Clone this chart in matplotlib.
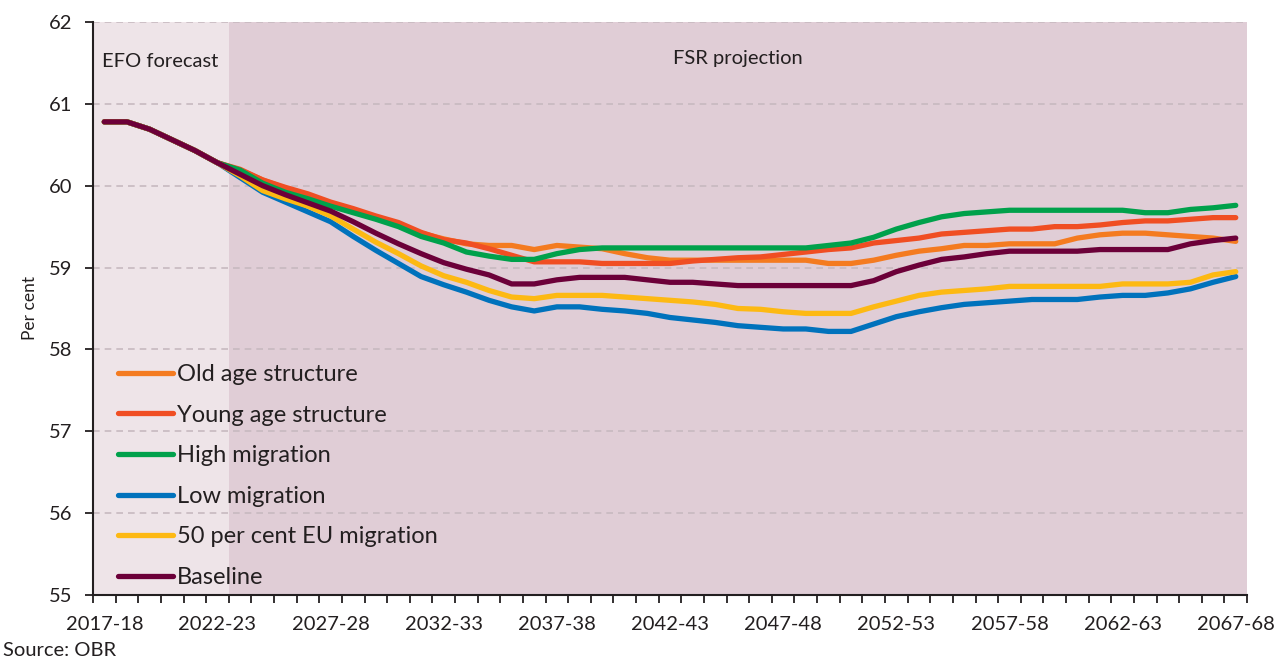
import numpy as np
import matplotlib
matplotlib.use("Agg")
import matplotlib.pyplot as plt
from matplotlib.ticker import MultipleLocator, FixedLocator

plt.rcParams['font.family'] = ['Lato', 'DejaVu Sans']

years = [f"{y}-{str(y + 1)[-2:]}" for y in range(2017, 2068)]

common = [60.78, 60.78, 60.69, 60.56, 60.43, 60.28]

old_age = common + [
    60.19, 60.07, 59.97, 59.88, 59.78, 59.70, 59.60, 59.52, 59.42, 59.35,
    59.29, 59.27, 59.27, 59.22, 59.27, 59.25, 59.23, 59.17, 59.12, 59.09,
    59.09, 59.09, 59.09, 59.09, 59.09, 59.09, 59.05, 59.05, 59.09, 59.15,
    59.20, 59.23, 59.27, 59.27, 59.29, 59.29, 59.29, 59.36, 59.40, 59.42,
    59.42, 59.40, 59.38, 59.36, 59.32]
young_age = common + [
    60.20, 60.07, 59.98, 59.90, 59.80, 59.72, 59.63, 59.55, 59.43, 59.34,
    59.30, 59.23, 59.15, 59.07, 59.07, 59.07, 59.05, 59.05, 59.05, 59.05,
    59.08, 59.10, 59.12, 59.13, 59.16, 59.19, 59.22, 59.24, 59.30, 59.33,
    59.36, 59.41, 59.43, 59.45, 59.47, 59.47, 59.50, 59.50, 59.52, 59.55,
    59.57, 59.57, 59.59, 59.61, 59.61]
high_mig = common + [
    60.19, 60.03, 59.92, 59.84, 59.75, 59.67, 59.59, 59.50, 59.38, 59.30,
    59.19, 59.14, 59.10, 59.10, 59.17, 59.22, 59.24, 59.24, 59.24, 59.24,
    59.24, 59.24, 59.24, 59.24, 59.24, 59.24, 59.27, 59.30, 59.37, 59.47,
    59.55, 59.62, 59.66, 59.68, 59.70, 59.70, 59.70, 59.70, 59.70, 59.70,
    59.67, 59.67, 59.71, 59.73, 59.76]
low_mig = common + [
    60.10, 59.92, 59.80, 59.68, 59.56, 59.38, 59.21, 59.05, 58.89, 58.79,
    58.70, 58.60, 58.52, 58.47, 58.52, 58.52, 58.49, 58.47, 58.44, 58.39,
    58.36, 58.33, 58.29, 58.27, 58.25, 58.25, 58.22, 58.22, 58.31, 58.40,
    58.46, 58.51, 58.55, 58.57, 58.59, 58.61, 58.61, 58.61, 58.64, 58.66,
    58.66, 58.69, 58.74, 58.82, 58.89]
eu_50 = common + [
    60.12, 59.94, 59.84, 59.75, 59.63, 59.47, 59.31, 59.17, 59.02, 58.90,
    58.82, 58.72, 58.64, 58.62, 58.66, 58.66, 58.66, 58.64, 58.62, 58.60,
    58.58, 58.55, 58.50, 58.49, 58.46, 58.44, 58.44, 58.44, 58.52, 58.59,
    58.66, 58.70, 58.72, 58.74, 58.77, 58.77, 58.77, 58.77, 58.77, 58.80,
    58.80, 58.80, 58.82, 58.91, 58.95]
baseline = common + [
    60.14, 60.00, 59.89, 59.79, 59.69, 59.56, 59.42, 59.29, 59.17, 59.06,
    58.98, 58.91, 58.80, 58.80, 58.85, 58.88, 58.88, 58.88, 58.85, 58.82,
    58.82, 58.80, 58.78, 58.78, 58.78, 58.78, 58.78, 58.78, 58.84, 58.95,
    59.03, 59.10, 59.13, 59.17, 59.20, 59.20, 59.20, 59.20, 59.22, 59.22,
    59.22, 59.22, 59.29, 59.33, 59.36]

series = [
    ("Old age structure", old_age, "#F47B20"),
    ("Young age structure", young_age, "#F04E23"),
    ("High migration", high_mig, "#00A14B"),
    ("Low migration", low_mig, "#0072BC"),
    ("50 per cent EU migration", eu_50, "#FDB913"),
    ("Baseline", baseline, "#6C0039"),
]

fig = plt.figure(figsize=(12.81, 6.62), dpi=100)
ax = fig.add_axes([0.0726, 0.1012, 0.9009, 0.8656])

x = np.arange(len(years))
ax.axvspan(-0.5, 5.5, color="#EEE4E8", zorder=0, lw=0)
ax.axvspan(5.5, len(years) - 0.5, color="#E0CDD6", zorder=0, lw=0)

for yv in range(56, 63):
    ax.axhline(yv, color="#C7B9C0", lw=1.2, ls=(0, (4, 3)), zorder=1)

for name, vals, col in series:
    ax.plot(x, vals, color=col, lw=3.8, label=name, solid_capstyle="round",
            solid_joinstyle="round", zorder=3)

ax.set_xlim(-0.5, len(years) - 0.5)
ax.set_ylim(55, 62)
ax.yaxis.set_major_locator(MultipleLocator(1))
ax.xaxis.set_major_locator(FixedLocator(x[::5]))
ax.set_xticklabels(years[::5])
ax.xaxis.set_minor_locator(FixedLocator(np.arange(-0.5, len(years), 1)))
ax.tick_params(axis="x", which="major", length=0, labelsize=14.5, pad=15,
               colors="#231F20")
ax.tick_params(axis="x", which="minor", length=6, width=1.3, color="#231F20")
ax.tick_params(axis="y", which="major", length=6, width=1.3, labelsize=14.5,
               pad=9, color="#231F20", labelcolor="#231F20")

for s in ["top", "right"]:
    ax.spines[s].set_visible(False)
for s in ["left", "bottom"]:
    ax.spines[s].set_linewidth(1.5)
    ax.spines[s].set_color("#231F20")

ax.set_ylabel("Per cent", fontsize=12.5, color="#231F20", labelpad=8)

ax.text(-0.1, 61.52, "EFO forecast", fontsize=14.5, color="#231F20",
        va="center", ha="left")
ax.text(28, 61.55, "FSR projection", fontsize=14.5, color="#231F20",
        va="center", ha="center")

leg = ax.legend(loc="lower left", bbox_to_anchor=(0.003, -0.025), frameon=False,
                fontsize=17, handlelength=2.33, handletextpad=0.17,
                labelspacing=0.83, borderaxespad=0.5)
for t in leg.get_texts():
    t.set_color("#231F20")

fig.text(0.002, 0.005, "Source: OBR", fontsize=14.5, color="#231F20",
         ha="left", va="bottom")

fig.savefig("out.png", dpi=100)
